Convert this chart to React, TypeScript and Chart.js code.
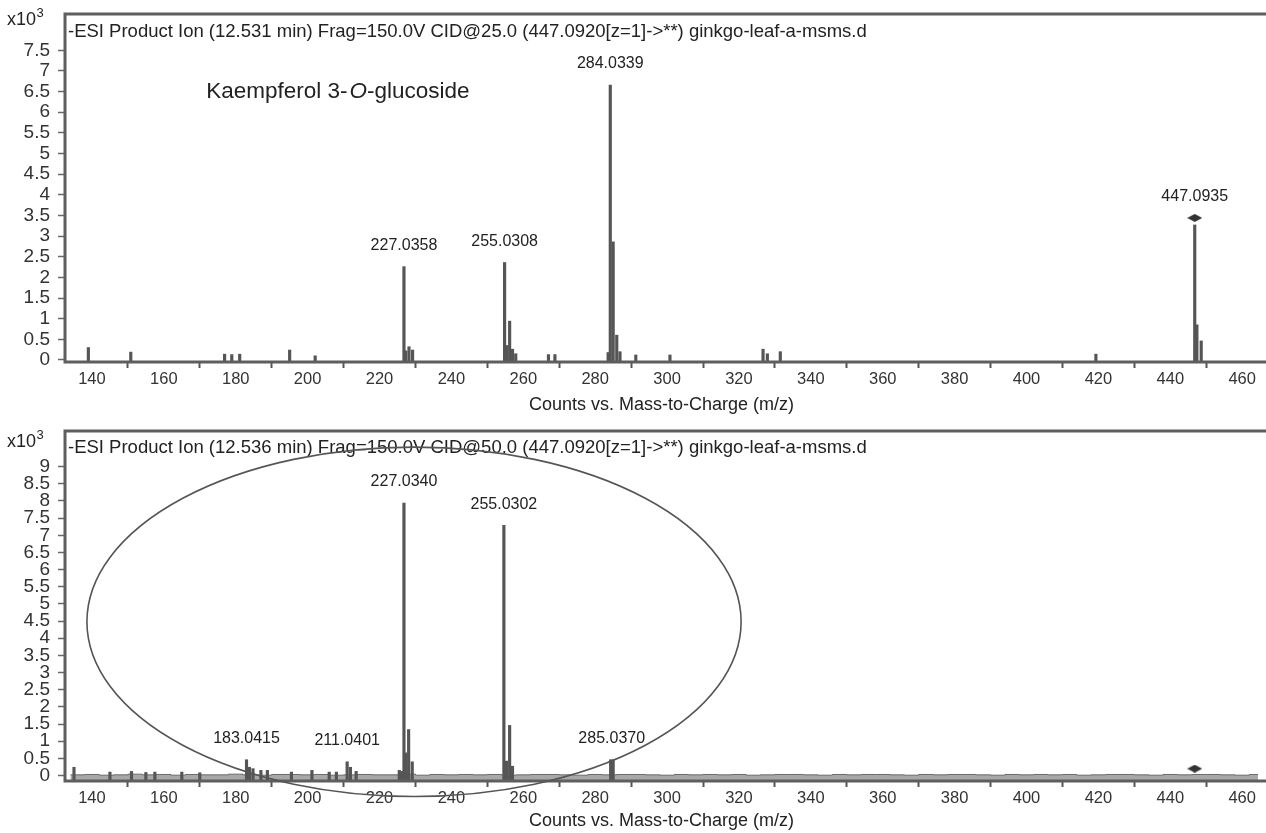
import React, { useEffect, useRef } from 'react';
import { Chart, registerables } from 'chart.js';

Chart.register(...registerables);

const FONT = '"Liberation Sans", Arial, Helvetica, sans-serif';

// ---------- shared axis ----------
const mzTicks = [140, 160, 180, 200, 220, 240, 260, 280, 300, 320, 340, 360, 380, 400, 420, 440, 460];
const mzMin = 132.5;
const mzMax = 464.4;
const axisTitle = 'Counts vs. Mass-to-Charge (m/z)';

// ---------- top panel (CID 25) ----------
const topTitle = '-ESI Product Ion (12.531 min) Frag=150.0V CID@25.0 (447.0920[z=1]->**) ginkgo-leaf-a-msms.d';
const topIntensityTicks = [0, 0.5, 1, 1.5, 2, 2.5, 3, 3.5, 4, 4.5, 5, 5.5, 6, 6.5, 7, 7.5];
const topPeakMz = [139.0, 150.8, 176.9, 178.9, 181.1, 195.0, 202.1, 226.8, 227.3, 228.2, 229.2, 254.8, 255.3, 256.2, 257.0, 257.9, 267.0, 268.8, 283.6, 284.2, 285.0, 286.0, 286.9, 291.3, 300.8, 326.7, 327.9, 331.5, 419.3, 446.8, 447.4, 448.6];
const topPeakInt = [0.30, 0.19, 0.14, 0.13, 0.14, 0.24, 0.10, 2.26, 0.22, 0.32, 0.24, 2.36, 0.35, 0.94, 0.26, 0.15, 0.13, 0.13, 0.18, 6.66, 2.86, 0.60, 0.20, 0.12, 0.12, 0.26, 0.15, 0.20, 0.14, 3.27, 0.85, 0.46];
const topLabelMz = [226.8, 254.8, 284.2, 446.8];
const topLabelInt = [2.26, 2.36, 6.66, 3.44];
const topLabelText = ['227.0358', '255.0308', '284.0339', '447.0935'];
const topPrecursorMz = [446.8];
const topPrecursorInt = [3.44];
const compoundName = ['Kaempferol 3-', 'O', '-glucoside'];
const compoundMz = 171.8;
const compoundInt = 6.49;

// ---------- bottom panel (CID 50) ----------
const bottomTitle = '-ESI Product Ion (12.536 min) Frag=150.0V CID@50.0 (447.0920[z=1]->**) ginkgo-leaf-a-msms.d';
const bottomIntensityTicks = [0, 0.5, 1, 1.5, 2, 2.5, 3, 3.5, 4, 4.5, 5, 5.5, 6, 6.5, 7, 7.5, 8, 8.5, 9];
const bottomPeakMz = [135.0, 145.0, 151.0, 155.0, 157.5, 165.0, 170.0, 183.0, 183.8, 184.8, 187.0, 188.8, 195.5, 201.2, 206.0, 208.0, 211.0, 211.9, 213.5, 225.5, 226.2, 226.8, 227.3, 228.1, 229.1, 254.6, 255.3, 256.2, 257.0, 284.3, 285.0];
const bottomPeakInt = [0.24, 0.10, 0.12, 0.09, 0.10, 0.10, 0.08, 0.46, 0.24, 0.20, 0.15, 0.15, 0.10, 0.15, 0.10, 0.10, 0.40, 0.24, 0.12, 0.15, 0.12, 7.94, 0.66, 1.34, 0.40, 7.29, 0.42, 1.46, 0.27, 0.46, 0.46];
const bottomNoiseMz = [134, 138, 142, 146, 150, 154, 158, 162, 166, 170, 174, 178, 182, 186, 190, 194, 198, 202, 206, 210, 214, 218, 222, 226, 230, 234, 238, 242, 246, 250, 254, 258, 262, 266, 270, 274, 278, 282, 286, 290, 294, 298, 302, 306, 310, 314, 318, 322, 326, 330, 334, 338, 342, 346, 350, 354, 358, 362, 366, 370, 374, 378, 382, 386, 390, 394, 398, 402, 406, 410, 414, 418, 422, 426, 430, 434, 438, 442, 446, 450, 454, 458, 462, 466];
const bottomNoiseInt = [0.02, 0.03, 0.01, 0.02, 0.04, 0.02, 0.03, 0.01, 0.03, 0.02, 0.02, 0.04, 0.02, 0.01, 0.03, 0.03, 0.02, 0.03, 0.01, 0.02, 0.03, 0.02, 0.02, 0.04, 0.01, 0.03, 0.02, 0.03, 0.02, 0.03, 0.01, 0.02, 0.03, 0.03, 0.02, 0.01, 0.03, 0.02, 0.03, 0.03, 0.02, 0.01, 0.03, 0.02, 0.03, 0.02, 0.03, 0.01, 0.02, 0.03, 0.03, 0.02, 0.01, 0.03, 0.02, 0.03, 0.03, 0.02, 0.01, 0.03, 0.02, 0.03, 0.03, 0.02, 0.01, 0.03, 0.02, 0.03, 0.02, 0.03, 0.01, 0.02, 0.03, 0.03, 0.02, 0.01, 0.03, 0.02, 0.03, 0.03, 0.02, 0.01, 0.03, 0.02];
const bottomLabelMz = [183.0, 211.0, 226.8, 254.6, 284.6];
const bottomLabelInt = [0.46, 0.40, 7.94, 7.29, 0.46];
const bottomLabelText = ['183.0415', '211.0401', '227.0340', '255.0302', '285.0370'];
const bottomPrecursorMz = [446.8];
const bottomPrecursorInt = [0.20];
const ellipseCenter = [229.6, 4.48];
const ellipseRadius = [91.0, 5.09];

function makeDiamond(): HTMLCanvasElement {
  const c = document.createElement('canvas');
  c.width = 15;
  c.height = 8;
  const g = c.getContext('2d')!;
  g.fillStyle = '#333';
  g.beginPath();
  g.moveTo(0, 4);
  g.lineTo(7.5, 0);
  g.lineTo(15, 4);
  g.lineTo(7.5, 8);
  g.closePath();
  g.fill();
  return c;
}

type Panel = {
  title: string;
  peaksMz: number[];
  peaksInt: number[];
  noiseMz?: number[];
  noiseInt?: number[];
  yMin: number;
  yMax: number;
  yTicks: number[];
  padTop: number;
  xAxisHeight: number;
  titleDy: number;
  expDy: number;
  axisTitleDy: number;
  labelsMz: number[];
  labelsInt: number[];
  labelsText: string[];
  precMz: number[];
  precInt: number[];
  compound?: boolean;
  ellipse?: boolean;
};

const decorPlugin = {
  id: 'decor',
  afterDraw(chart: any) {
    const p: Panel = chart.options.plugins.decor.panel;
    const { ctx, chartArea: a } = chart;
    const x = chart.scales.x;
    const y = chart.scales.y;
    ctx.save();
    // frame
    ctx.strokeStyle = '#5e5e5e';
    ctx.lineWidth = 3;
    ctx.beginPath();
    ctx.moveTo(a.left, a.bottom + 1.5);
    ctx.lineTo(a.left, a.top);
    ctx.lineTo(chart.width + 5, a.top);
    ctx.moveTo(a.left - 1.5, a.bottom);
    ctx.lineTo(chart.width + 5, a.bottom);
    ctx.stroke();

    ctx.fillStyle = '#222';
    ctx.textBaseline = 'middle';
    ctx.textAlign = 'left';
    ctx.font = `18.5px ${FONT}`;
    ctx.fillText(p.title, a.left + 3, a.top + p.titleDy);

    // x10^3
    ctx.font = `18px ${FONT}`;
    ctx.fillText('x10', 7, a.top + p.expDy);
    const w = ctx.measureText('x10').width;
    ctx.font = `13px ${FONT}`;
    ctx.fillText('3', 7 + w + 0.5, a.top + p.expDy - 7);

    // peak labels
    ctx.font = `16px ${FONT}`;
    ctx.textAlign = 'center';
    p.labelsText.forEach((t, i) => {
      ctx.fillText(t, x.getPixelForValue(p.labelsMz[i]), y.getPixelForValue(p.labelsInt[i]) - 21);
    });

    // compound name
    if (p.compound) {
      ctx.textAlign = 'left';
      let cx = x.getPixelForValue(compoundMz);
      const cy = y.getPixelForValue(compoundInt);
      compoundName.forEach((s, i) => {
        ctx.font = i === 1 ? `italic 22.5px ${FONT}` : `22.5px ${FONT}`;
        ctx.fillText(s, cx, cy);
        cx += ctx.measureText(s).width + (i === 0 ? 2 : 0);
      });
    }

    // axis title
    ctx.font = `18px ${FONT}`;
    ctx.textAlign = 'center';
    ctx.fillText(axisTitle, (a.left + a.right) / 2, a.bottom + p.axisTitleDy);

    // ellipse annotation
    if (p.ellipse) {
      const ex = x.getPixelForValue(ellipseCenter[0]);
      const ey = y.getPixelForValue(ellipseCenter[1]);
      const rx = x.getPixelForValue(ellipseCenter[0] + ellipseRadius[0]) - ex;
      const ry = ey - y.getPixelForValue(ellipseCenter[1] + ellipseRadius[1]);
      ctx.strokeStyle = '#555';
      ctx.lineWidth = 1.6;
      ctx.beginPath();
      ctx.ellipse(ex, ey, rx, ry, 0, 0, Math.PI * 2);
      ctx.stroke();
    }
    ctx.restore();
  },
};

function buildChart(canvas: HTMLCanvasElement, p: Panel, diamond: HTMLCanvasElement) {
  const datasets: any[] = [
    {
      type: 'scatter',
      data: p.precMz.map((m, i) => ({ x: m, y: p.precInt[i] })),
      pointStyle: diamond,
      pointRadius: 7,
      order: 0,
    },
    {
      type: 'bar',
      data: p.peaksMz.map((m, i) => ({ x: m, y: p.peaksInt[i] })),
      backgroundColor: '#555555',
      borderWidth: 0,
      barThickness: 2.5,
      base: p.yMin,
      order: 1,
    },
  ];
  if (p.noiseMz && p.noiseInt) {
    datasets.push({
      type: 'line',
      data: p.noiseMz.map((m, i) => ({ x: m, y: p.noiseInt![i] })),
      stepped: true,
      fill: 'start',
      backgroundColor: 'rgba(110,110,110,0.6)',
      borderColor: 'rgba(80,80,80,0.8)',
      borderWidth: 1,
      pointRadius: 0,
      order: 2,
    });
  }
  return new Chart(canvas, {
    type: 'bar',
    data: { datasets },
    options: {
      responsive: false,
      animation: false,
      events: [],
      layout: { padding: { top: p.padTop, left: 0, right: 0, bottom: 0 } },
      plugins: {
        legend: { display: false },
        tooltip: { enabled: false },
        decor: { panel: p },
      } as any,
      scales: {
        x: {
          type: 'linear',
          offset: false,
          min: mzMin,
          max: mzMax,
          afterBuildTicks: (s: any) => {
            s.ticks = mzTicks.map((v) => ({ value: v }));
          },
          afterFit: (s: any) => {
            s.height = p.xAxisHeight;
            s.paddingLeft = 0;
            s.paddingRight = 0;
          },
          border: { display: false },
          grid: { drawOnChartArea: false, tickLength: 6, tickColor: '#555', tickWidth: 2 },
          ticks: {
            autoSkip: false,
            maxRotation: 0,
            padding: 2,
            color: '#333',
            font: { family: FONT, size: 16.5 },
            callback: (v: any) => String(v),
          },
        },
        y: {
          type: 'linear',
          min: p.yMin,
          max: p.yMax,
          afterBuildTicks: (s: any) => {
            s.ticks = p.yTicks.map((v) => ({ value: v }));
          },
          afterFit: (s: any) => {
            s.width = 65;
            s.paddingTop = 0;
            s.paddingBottom = 0;
          },
          border: { display: false },
          grid: { drawOnChartArea: false, tickLength: 7, tickColor: '#666', tickWidth: 1.5 },
          ticks: {
            autoSkip: false,
            padding: 8,
            color: '#333',
            font: { family: FONT, size: 19 },
            callback: (v: any) => String(v),
          },
        },
      },
    } as any,
    plugins: [decorPlugin as any],
  });
}

const topPanel: Panel = {
  title: topTitle,
  peaksMz: topPeakMz,
  peaksInt: topPeakInt,
  yMin: -0.05,
  yMax: 8.38,
  yTicks: topIntensityTicks,
  padTop: 14,
  xAxisHeight: 53,
  titleDy: 18,
  expDy: 6,
  axisTitleDy: 43,
  labelsMz: topLabelMz,
  labelsInt: topLabelInt,
  labelsText: topLabelText,
  precMz: topPrecursorMz,
  precInt: topPrecursorInt,
  compound: true,
};

const bottomPanel: Panel = {
  title: bottomTitle,
  peaksMz: bottomPeakMz,
  peaksInt: bottomPeakInt,
  noiseMz: bottomNoiseMz,
  noiseInt: bottomNoiseInt,
  yMin: -0.16,
  yMax: 10.04,
  yTicks: bottomIntensityTicks,
  padTop: 16,
  xAxisHeight: 52,
  titleDy: 17,
  expDy: 11,
  axisTitleDy: 40,
  labelsMz: bottomLabelMz,
  labelsInt: bottomLabelInt,
  labelsText: bottomLabelText,
  precMz: bottomPrecursorMz,
  precInt: bottomPrecursorInt,
  ellipse: true,
};

export default function App() {
  const topRef = useRef<HTMLCanvasElement>(null);
  const botRef = useRef<HTMLCanvasElement>(null);
  useEffect(() => {
    const diamond = makeDiamond();
    const c1 = buildChart(topRef.current!, topPanel, diamond);
    const c2 = buildChart(botRef.current!, bottomPanel, diamond);
    return () => {
      c1.destroy();
      c2.destroy();
    };
  }, []);
  return (
    <div style={{ position: 'absolute', left: 0, top: 0, width: 1266, height: 833, background: '#fff', overflow: 'hidden' }}>
      <canvas ref={topRef} width={1266} height={415} style={{ position: 'absolute', left: 0, top: 0, width: 1266, height: 415 }} />
      <canvas ref={botRef} width={1266} height={418} style={{ position: 'absolute', left: 0, top: 415, width: 1266, height: 418 }} />
    </div>
  );
}
